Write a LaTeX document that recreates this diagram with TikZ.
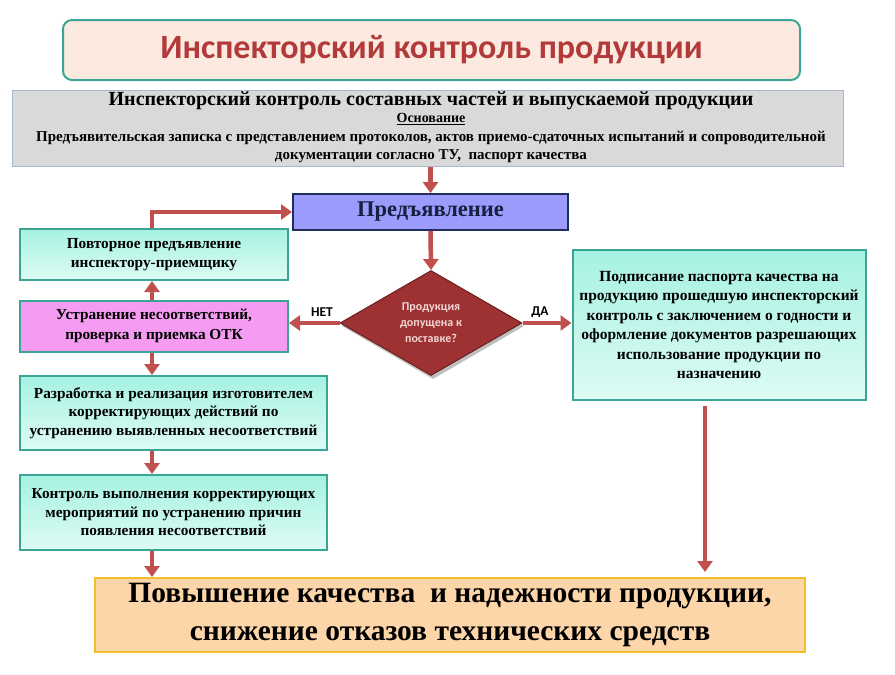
\documentclass[tikz,border=0pt]{standalone}
\usepackage{fontspec}
\setmainfont{Liberation Serif}
\newfontfamily\calib{Carlito}
\usetikzlibrary{arrows.meta,shapes.geometric,calc}
\definecolor{arrowred}{HTML}{C0504D}
\definecolor{titlered}{HTML}{B23A3A}
\definecolor{titlefill}{HTML}{FCEAE0}
\definecolor{tealline}{HTML}{3AA594}
\definecolor{grayfill}{HTML}{D9D9D9}
\definecolor{grayline}{HTML}{A8B6CA}
\definecolor{predfill}{HTML}{9B9BFB}
\definecolor{predline}{HTML}{1F2D5C}
\definecolor{tealtop}{HTML}{A6F2E2}
\definecolor{tealbot}{HTML}{DDFBF4}
\definecolor{pinkfill}{HTML}{F59CF2}
\definecolor{diafill}{HTML}{9E3232}
\definecolor{dialine}{HTML}{6A1E1E}
\definecolor{diatext}{HTML}{F3D6D6}
\definecolor{finfill}{HTML}{FCD5A9}
\definecolor{finline}{HTML}{F0C02A}
\tikzset{
  box/.style={draw=tealline, line width=2pt, top color=tealtop, bottom color=tealbot,
    align=center, font=\bfseries\fontsize{15.3}{19.5}\selectfont, inner sep=2pt},
  flow/.style={draw=arrowred, line width=4.5pt, -{Triangle[length=11pt,width=15pt]}},
  lbl/.style={font=\calib\bfseries\fontsize{13.5}{15}\selectfont}
}
\begin{document}
\begin{tikzpicture}[x=1pt,y=-1pt]
\useasboundingbox (0,0) rectangle (895,675);
\fill[white] (0,0) rectangle (895,675);
% title
\node[draw=tealline, line width=2pt, rounded corners=9pt, fill=titlefill,
  minimum width=737pt, minimum height=60pt, text=titlered,
  font=\calib\bfseries\fontsize{34}{38}\selectfont] (title) at (431.5,50) {Инспекторский контроль продукции};
% basis box
\node[draw=grayline, line width=1pt, fill=grayfill, minimum width=831pt, minimum height=76pt] (gray) at (427.5,128) {};
\node[font=\bfseries\fontsize{20}{22}\selectfont, inner sep=0pt] (g1) at (431,101)
  {Инспекторский контроль составных частей и выпускаемой продукции};
\node[font=\bfseries\fontsize{14}{16}\selectfont, inner sep=0pt] (g2) at (431,119) {\underline{Основание}};
\node[font=\bfseries\fontsize{15}{18}\selectfont, align=center, inner sep=0pt] (g3) at (431,147)
  {Предъявительская записка с представлением протоколов, актов приемо-сдаточных испытаний и сопроводительной\\
   документации согласно ТУ,\ \ паспорт качества};
% presentation
\node[draw=predline, line width=2pt, fill=predfill, minimum width=275pt, minimum height=36pt,
  text=predline!70!black, font=\bfseries\fontsize{22.5}{24}\selectfont] (pred) at (430.5,212) {Предъявление};
% diamond
\fill[black!25] (433,275) -- (524,326) -- (433,379) -- (342,326) -- cycle;
\node[diamond, draw=dialine, line width=1pt, fill=diafill, aspect=1.73, inner sep=0pt,
  minimum width=182pt, minimum height=105pt, align=center, text=diatext,
  font=\calib\bfseries\fontsize{12}{16}\selectfont] (dia) at (431,323) {Продукция\\допущена к\\поставке?};
% left column
\node[box, minimum width=268pt, minimum height=51pt] (rep) at (154,254.5)
  {Повторное предъявление\\инспектору-приемщику};
\node[box, top color=pinkfill, bottom color=pinkfill, minimum width=268pt, minimum height=51pt] (fix) at (154,326)
  {Устранение несоответствий,\\проверка и приемка ОТК};
\node[box, minimum width=307pt, minimum height=74pt, font=\bfseries\fontsize{15.3}{18.5}\selectfont] (dev) at (173.5,413)
  {Разработка и реализация изготовителем\\корректирующих действий по\\устранению выявленных несоответствий};
\node[box, minimum width=307pt, minimum height=75pt, font=\bfseries\fontsize{15.3}{18.5}\selectfont] (ctl) at (173.5,512.5)
  {Контроль выполнения корректирующих\\мероприятий по устранению причин\\появления несоответствий};
% right box
\node[box, minimum width=293pt, minimum height=150pt, font=\bfseries\fontsize{15.5}{19.5}\selectfont] (right) at (719,325)
  {Подписание паспорта качества на\\продукцию прошедшую инспекторский\\контроль с заключением о годности и\\оформление документов разрешающих\\использование продукции по\\назначению};
% final
\node[draw=finline, line width=2pt, fill=finfill, minimum width=710pt, minimum height=74pt,
  align=center, font=\bfseries\fontsize{29.5}{38}\selectfont] (final) at (450,615)
  {\raisebox{-3pt}{Повышение качества\ \ и надежности продукции,}\\\raisebox{-3pt}{снижение отказов технических средств}};
% columns
\coordinate (col) at (152,0);
\coordinate (rcol) at (705,0);
% connectors
\draw[flow] (gray.south -| pred.north) -- (pred.north);
\draw[flow] (pred.south) -- (dia.north);
\draw[flow] (dia.west) -- (dia.west -| fix.east);
\draw[flow] (dia.east) -- (dia.east -| right.west);
\draw[flow] (fix.north -| col) -- (rep.south -| col);
\draw[flow] (rep.north -| col) |- (pred.west);
\draw[flow] (fix.south -| col) -- (dev.north -| col);
\draw[flow] (dev.south -| col) -- (ctl.north -| col);
\draw[flow] (ctl.south -| col) -- (final.north -| col);
\draw[flow, shorten <=5pt, shorten >=5pt] (right.south -| rcol) -- (final.north -| rcol);
% labels
\node[lbl] (no) at (322,312) {НЕТ};
\node[lbl] (yes) at (540,312) {ДА};
\end{tikzpicture}
\end{document}
